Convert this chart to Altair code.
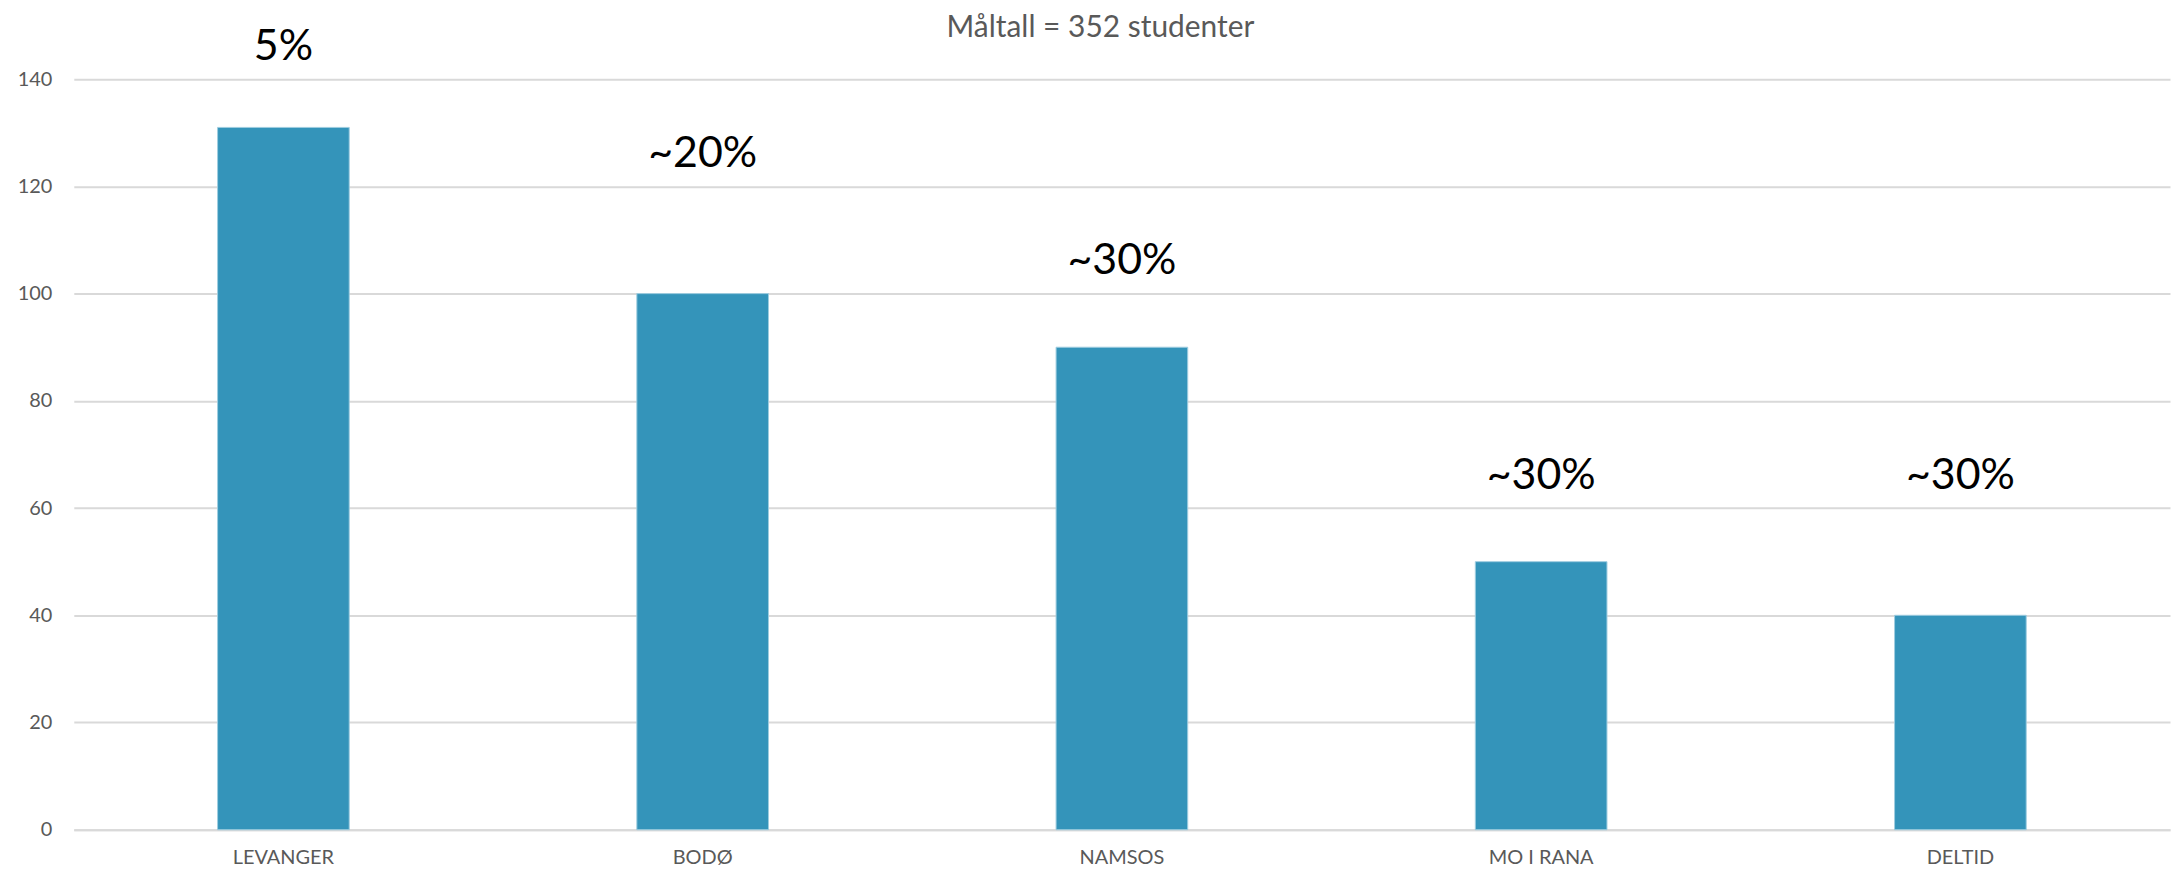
import altair as alt
import pandas as pd

categories = ["LEVANGER", "BODØ", "NAMSOS", "MO I RANA", "DELTID"]
values = [131, 100, 90, 50, 40]
labels = ["5%", "~20%", "~30%", "~30%", "~30%"]
label_pos = [146, 126, 106, 66, 66]
title_text = "Måltall = 352 studenter"

df = pd.DataFrame({"cat": categories, "val": values, "lab": labels, "lpos": label_pos})

FONT = "Lato"

x = alt.X("cat:N", sort=categories, title=None,
          scale=alt.Scale(paddingInner=0.686, paddingOuter=0.343),
          axis=alt.Axis(labelAngle=0, labelFontSize=20, labelColor="#595959", labelFont=FONT,
                        domain=True, domainColor="#d9d9d9", domainWidth=2, ticks=False,
                        labelPadding=18, grid=False))

bars = alt.Chart(df).mark_bar(color="#3494BA", stroke="#9fcde0", strokeWidth=1).encode(
    x=x,
    y=alt.Y("val:Q", title=None,
            scale=alt.Scale(domain=[0, 140]),
            axis=alt.Axis(values=[0, 20, 40, 60, 80, 100, 120, 140], labelFontSize=20,
                          labelColor="#595959", labelFont=FONT, domain=False, ticks=False,
                          labelPadding=22, gridColor="#d9d9d9", gridWidth=2)),
)

text = alt.Chart(df).mark_text(fontSize=43, font=FONT, color="#000000", baseline="middle").encode(
    x=alt.X("cat:N", sort=categories),
    y=alt.Y("lpos:Q"),
    text="lab:N",
)

title = alt.Chart(pd.DataFrame({"t": [title_text]})).mark_text(
    fontSize=30, font=FONT, color="#595959", baseline="middle", align="center"
).encode(x=alt.value(1030), y=alt.value(-51), text="t:N")

chart = alt.layer(bars, text, title).properties(
    width=2103, height=753,
    padding={"left": 66, "top": 70, "right": 5, "bottom": 44},
    autosize=alt.AutoSizeParams(type="none"),
).configure_view(stroke=None)

chart.save("out.html", embed_options={"renderer": "svg", "actions": False})
